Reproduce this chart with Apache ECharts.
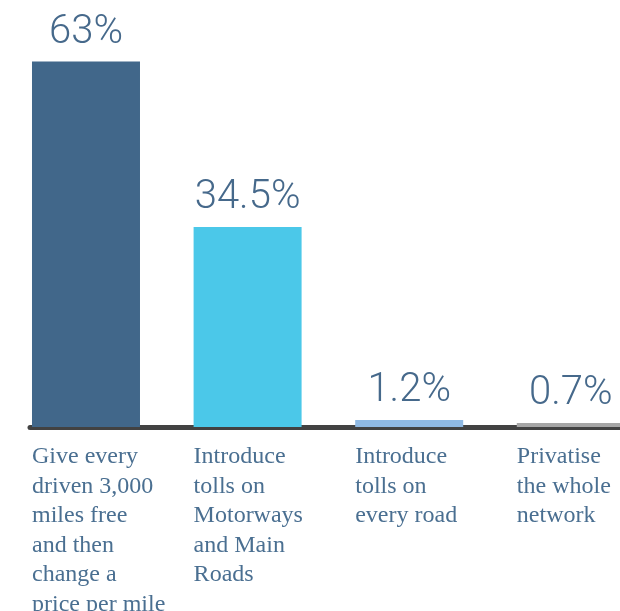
<!DOCTYPE html>
<html>
<head>
<meta charset="utf-8">
<script src="https://cdn.jsdelivr.net/npm/echarts@6/dist/echarts.min.js"></script>
<style>
  html, body { margin: 0; padding: 0; background: #ffffff; }
  #chart { width: 620px; height: 611px; }
</style>
</head>
<body>
<div id="chart"></div>
<script>
// Survey options (one bar each) and the share of respondents choosing them
const categories = [
  'Give every\ndriven 3,000\nmiles free\nand then\nchange a\nprice per mile',
  'Introduce\ntolls on\nMotorways\nand Main\nRoads',
  'Introduce\ntolls on\nevery road',
  'Privatise\nthe whole\nnetwork'
];
const shares = [63, 34.5, 1.2, 0.7];
const valueLabels = ['63%', '34.5%', '1.2%', '0.7%'];
const barColors = ['#41678a', '#4bc8e9', '#8fb9e3', '#a6a6a6'];

const HALF_BAR = 0.334; // half a bar width, in category units

const chart = echarts.init(document.getElementById('chart'), null, { renderer: 'canvas' });

chart.setOption({
  animation: false,
  backgroundColor: '#ffffff',
  grid: {
    left: 30, right: 0, top: 21, bottom: 184,
    containLabel: false,
    outerBoundsMode: 'none'
  },
  xAxis: {
    type: 'value',
    min: -0.3465,
    max: 3.3045,
    splitLine: { show: false },
    axisTick: { show: false },
    axisLine: { show: true, onZero: false, lineStyle: { color: '#424242', width: 5 } },
    axisLabel: {
      customValues: categories.map((_, i) => i - HALF_BAR),
      formatter: v => categories[Math.round(v + HALF_BAR)] || '',
      align: 'left',
      verticalAlign: 'top',
      margin: 15,
      color: '#4a6f91',
      fontFamily: 'Liberation Serif',
      fontSize: 24,
      lineHeight: 29.5
    }
  },
  yAxis: {
    type: 'value',
    min: 0,
    max: 70,
    show: false
  },
  series: [{
    type: 'bar',
    barWidth: 108,
    z: 1,
    data: shares.map((v, i) => ({
      value: [i, v],
      itemStyle: { color: barColors[i] },
      label: { formatter: valueLabels[i] }
    })),
    label: {
      show: true,
      position: 'top',
      distance: 9,
      color: '#46698b',
      fontFamily: 'Roboto',
      fontWeight: 300,
      fontSize: 40
    }
  }]
});
</script>
</body>
</html>
